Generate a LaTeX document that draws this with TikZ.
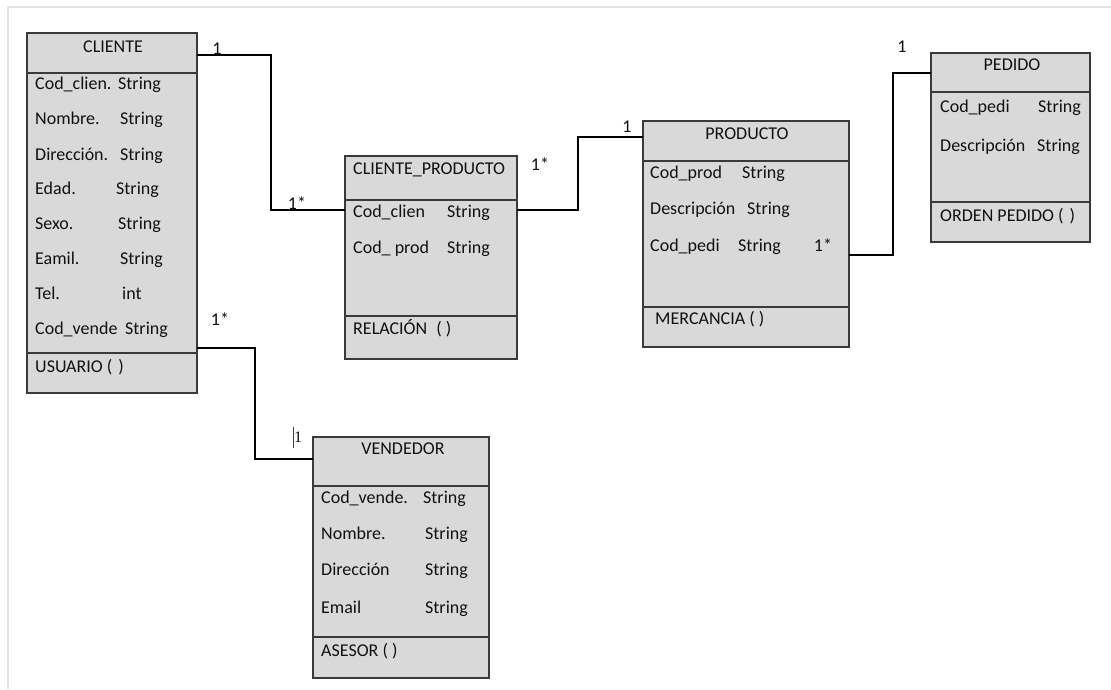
\documentclass[tikz,border=0pt]{standalone}
\usepackage{fontspec}
\setmainfont{Carlito}
\newfontfamily\seriffont{Liberation Serif}
\definecolor{boxfill}{HTML}{D9D9D9}
\definecolor{boxline}{HTML}{3A3A3A}
\definecolor{textcol}{HTML}{111111}
\definecolor{framecol}{HTML}{E2E2E2}
\begin{document}
\begin{tikzpicture}[x=1pt,y=-1pt,
  classbox/.style={draw=boxline, fill=boxfill, line width=1.4pt, anchor=north west,
                   inner sep=0pt, outer sep=0pt},
  divider/.style={draw=boxline, line width=1.4pt},
  conn/.style={draw=black, line width=2.6pt},
  attr/.style={anchor=base west, inner sep=0pt, text=textcol, font=\fontsize{18}{22}\selectfont},
  title/.style={anchor=base, inner sep=0pt, text=textcol, font=\fontsize{18}{22}\selectfont},
  mult/.style={anchor=base, inner sep=0pt, text=textcol, font=\fontsize{18}{22}\selectfont}]
\useasboundingbox (0,0) rectangle (1111,689);
\fill[white] (0,0) rectangle (1111,689);
% page frame
\draw[framecol, line width=2pt] (8,689) -- (8,7) -- (1111,7);

% ---------- class boxes ----------
\node[classbox, minimum width=170pt, minimum height=360pt] (cli) at (27,33) {};
\draw[divider] ([yshift=-40pt]cli.north west) -- ([yshift=-40pt]cli.north east);
\draw[divider] ([yshift=-320pt]cli.north west) -- ([yshift=-320pt]cli.north east);

\node[classbox, minimum width=172pt, minimum height=203pt] (cp) at (345,156) {};
\draw[divider] ([yshift=-44pt]cp.north west) -- ([yshift=-44pt]cp.north east);
\draw[divider] ([yshift=-160pt]cp.north west) -- ([yshift=-160pt]cp.north east);

\node[classbox, minimum width=206pt, minimum height=226pt] (prod) at (643,121) {};
\draw[divider] ([yshift=-40pt]prod.north west) -- ([yshift=-40pt]prod.north east);
\draw[divider] ([yshift=-186pt]prod.north west) -- ([yshift=-186pt]prod.north east);

\node[classbox, minimum width=159pt, minimum height=189pt] (ped) at (931,53) {};
\draw[divider] ([yshift=-39pt]ped.north west) -- ([yshift=-39pt]ped.north east);
\draw[divider] ([yshift=-149pt]ped.north west) -- ([yshift=-149pt]ped.north east);

\node[classbox, minimum width=176pt, minimum height=241pt] (ven) at (313,437) {};
\draw[divider] ([yshift=-49pt]ven.north west) -- ([yshift=-49pt]ven.north east);
\draw[divider] ([yshift=-200pt]ven.north west) -- ([yshift=-200pt]ven.north east);

% ---------- connectors ----------
\draw[conn] ([yshift=-22pt]cli.north east) -- ++(74,0) |- ([yshift=-54pt]cp.north west);
\draw[conn] ([yshift=-54pt]cp.north east) -- ++(61,0) |- ([yshift=-16pt]prod.north west);
\draw[conn] ([yshift=-134pt]prod.north east) -- ++(44,0) |- ([yshift=-20pt]ped.north west);
\draw[conn] ([yshift=-315pt]cli.north east) -- ++(58,0) |- ([yshift=-22pt]ven.north west);

% ---------- CLIENTE ----------
\node[title] (cliT) at (113,52) {CLIENTE};
\node[attr] (cliA1) at (35,89) {Cod\_clien.};   \node[attr] (cliB1) at (118,89) {String};
\node[attr] (cliA2) at (35,124) {Nombre.};      \node[attr] (cliB2) at (120,124) {String};
\node[attr] (cliA3) at (35,160) {Dirección.};   \node[attr] (cliB3) at (120,160) {String};
\node[attr] (cliA4) at (35,194) {Edad.};        \node[attr] (cliB4) at (116,194) {String};
\node[attr] (cliA5) at (35,229) {Sexo.};        \node[attr] (cliB5) at (118,229) {String};
\node[attr] (cliA6) at (35,264) {Eamil.};       \node[attr] (cliB6) at (120,264) {String};
\node[attr] (cliA7) at (35,299) {Tel.};         \node[attr] (cliB7) at (122,299) {int};
\node[attr] (cliA8) at (35,334) {Cod\_vende};   \node[attr] (cliB8) at (125,334) {String};
\node[attr] (cliM) at (35,372) {USUARIO (\,\,)};

% ---------- CLIENTE_PRODUCTO ----------
\node[attr] (cpT) at (353,174) {CLIENTE\_PRODUCTO};
\node[attr] (cpA1) at (353,217) {Cod\_clien};   \node[attr] (cpB1) at (447,217) {String};
\node[attr] (cpA2) at (353,253) {Cod\_ prod};   \node[attr] (cpB2) at (447,253) {String};
\node[attr] (cpM) at (353,334) {RELACIÓN\hspace{9pt}( )};

% ---------- PRODUCTO ----------
\node[title] (prodT) at (747,139) {PRODUCTO};
\node[attr] (prA1) at (650,178) {Cod\_prod};    \node[attr] (prB1) at (742,178) {String};
\node[attr] (prA2) at (650,214) {Descripción};  \node[attr] (prB2) at (747,214) {String};
\node[attr] (prA3) at (650,251) {Cod\_pedi};    \node[attr] (prB3) at (738,251) {String};
\node[attr] (prM) at (655,324) {MERCANCIA ( )};

% ---------- PEDIDO ----------
\node[title] (pedT) at (1012,70) {PEDIDO};
\node[attr] (peA1) at (940,112) {Cod\_pedi};    \node[attr] (peB1) at (1038,112) {String};
\node[attr] (peA2) at (940,151) {Descripción};  \node[attr] (peB2) at (1037,151) {String};
\node[attr] (peM) at (940,221) {ORDEN PEDIDO (\,\,)};

% ---------- VENDEDOR ----------
\node[title] (venT) at (403,454) {VENDEDOR};
\node[attr] (veA1) at (321,503) {Cod\_vende.};  \node[attr] (veB1) at (423,503) {String};
\node[attr] (veA2) at (321,539) {Nombre.};      \node[attr] (veB2) at (425,539) {String};
\node[attr] (veA3) at (321,575) {Dirección};    \node[attr] (veB3) at (425,575) {String};
\node[attr] (veA4) at (321,613) {Email};        \node[attr] (veB4) at (425,613) {String};
\node[attr] (veM) at (321,656) {ASESOR ( )};

% ---------- multiplicities ----------
\node[mult] (m1) at (217,54) {1};
\node[mult] (m2) at (297,209) {1*};
\node[mult] (m3) at (540,170) {1*};
\node[mult] (m4) at (627,132) {1};
\node[mult] (m5) at (823,251) {1*};
\node[mult] (m6) at (902,52) {1};
\node[mult] (m7) at (220,325) {1*};
\node[anchor=base, inner sep=0pt, text=textcol, font=\seriffont\fontsize{16}{18}\selectfont]
  (m8) at (298,442) {1};
\draw[black!75, line width=0.8pt] (293,427) -- (293,448);
\end{tikzpicture}
\end{document}
